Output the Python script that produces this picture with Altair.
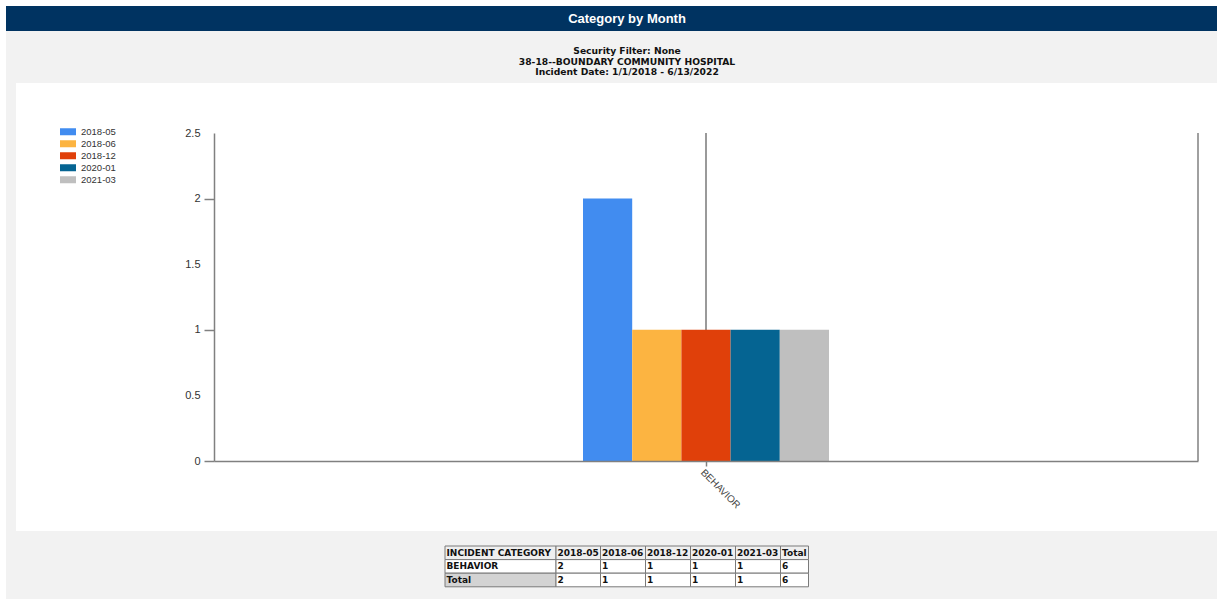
import altair as alt
import pandas as pd

# ---- data -------------------------------------------------------------
category = "BEHAVIOR"
months = ["2018-05", "2018-06", "2018-12", "2020-01", "2021-03"]
counts = [2, 1, 1, 1, 1]
colors = ["#418CF0", "#FCB441", "#E0400A", "#056492", "#BFBFBF"]
y_ticks = [0, 0.5, 1, 1.5, 2, 2.5]

report_title = "Category by Month"
subtitle_lines = [
    "Security Filter: None",
    "38-18--BOUNDARY COMMUNITY HOSPITAL",
    "Incident Date: 1/1/2018 - 6/13/2022",
]
table_corner = "INCIDENT CATEGORY"

# ---- layout -----------------------------------------------------------
W, H = 984, 328
PAD_L, PAD_T, PAD_R, PAD_B = 214, 133, 19, 138
AXIS_FONT = "Liberation Sans"
REPORT_FONT = "DejaVu Sans"
AXIS_GRAY = "#808080"

one = alt.Data(values=[{}])

bars_df = pd.DataFrame({"category": [category] * len(months), "month": months, "count": counts})

# frame: white page, gray report body, navy header, white chart panel
def box(x0, x1, y0, y1, fill):
    return alt.Chart(one).mark_rect(fill=fill).encode(
        x=alt.value(x0), x2=alt.value(x1), y=alt.value(y0), y2=alt.value(y1)
    )

gray_body = box(-208, W + PAD_R, -102, H + PAD_B, "#F2F2F2")
header_bar = box(-208, W + PAD_R, -127, -102, "#003361")
white_panel = box(-198, W + PAD_R, -50, 398, "#FFFFFF")

header_text = alt.Chart(one).mark_text(
    text=report_title, font=AXIS_FONT, fontSize=13, fontWeight="bold",
    color="#FFFFFF", align="center", baseline="middle",
).encode(x=alt.value(413), y=alt.value(-114))

sub_df = pd.DataFrame({"line": subtitle_lines, "i": range(len(subtitle_lines))})
sub_text = alt.Chart(sub_df).transform_calculate(
    py="-82 + 10.5 * datum.i"
).mark_text(
    font=REPORT_FONT, fontSize=9.2, fontWeight="bold", color="#111111",
    align="center", baseline="middle",
).encode(x=alt.value(413), y=alt.Y("py:Q", scale=None), text="line:N")

# ---- chart ------------------------------------------------------------
x_scale = alt.Scale(domain=[category], paddingInner=1 / 3, paddingOuter=1)
y_scale = alt.Scale(domain=[0, 2.5], nice=False, zero=True)

x_axis = alt.Axis(
    labelAngle=45, labelAlign="left", labelBaseline="top",
    labelFont=AXIS_FONT, labelFontSize=10, labelColor="#444444",
    labelPadding=1, tickSize=5, tickColor=AXIS_GRAY, tickWidth=1.5,
    domainColor=AXIS_GRAY, domainWidth=1.5, grid=False, zindex=1,
)

grid_line = alt.Chart(pd.DataFrame({"category": [category]})).mark_rule(
    color="#9A9A9A", strokeWidth=2
).encode(
    x=alt.X("category:N", scale=x_scale, axis=x_axis, title=None),
    y=alt.value(0), y2=alt.value(H),
)

right_edge = alt.Chart(one).mark_rule(color=AXIS_GRAY, strokeWidth=1.5).encode(
    x=alt.value(W), y=alt.value(0), y2=alt.value(H)
)

bars = alt.Chart(bars_df).mark_bar().encode(
    x=alt.X("category:N", scale=x_scale, title=None, axis=x_axis),
    xOffset=alt.XOffset("month:N", scale=alt.Scale(domain=months, paddingInner=0, paddingOuter=0)),
    y=alt.Y(
        "count:Q", scale=y_scale, title=None,
        axis=alt.Axis(
            values=y_ticks, format="~g", grid=False,
            labelFont=AXIS_FONT, labelFontSize=11, labelColor="#333333",
            labelPadding=4, tickSize=10, tickColor=AXIS_GRAY, tickWidth=1.5,
            tickOpacity={"condition": {"test": "datum.value % 1 === 0", "value": 1}, "value": 0},
            domainColor=AXIS_GRAY, domainWidth=1.5, zindex=1,
        ),
    ),
    color=alt.Color(
        "month:N", scale=alt.Scale(domain=months, range=colors),
        legend=alt.Legend(
            title=None, orient="none", legendX=-154, legendY=-7,
            symbolType="M-1,-0.45H1V0.45H-1Z", symbolSize=256, symbolStrokeWidth=0,
            clipHeight=11.5, rowPadding=0, labelOffset=5,
            labelFont=AXIS_FONT, labelFontSize=9.5, labelColor="#333333",
        ),
    ),
)

# ---- summary table ----------------------------------------------------
col_widths = [111, 44.5, 45, 45, 45, 45, 28]
row_h = 13.6
tx0, ty0 = 231, 413

header_row = [table_corner] + months + ["Total"]
body_row = [category] + [str(c) for c in counts] + [str(sum(counts))]
total_row = ["Total"] + [str(c) for c in counts] + [str(sum(counts))]

cells = []
for r, row in enumerate([header_row, body_row, total_row]):
    x = tx0
    for c, txt in enumerate(row):
        if r == 0:
            fill = "#EFEFEF"
        elif r == 2 and c == 0:
            fill = "#D3D3D3"
        else:
            fill = "#FFFFFF"
        cells.append({
            "x0": x, "x1": x + col_widths[c],
            "y0": ty0 + r * row_h, "y1": ty0 + (r + 1) * row_h,
            "tx": x + 1.5, "ty": ty0 + (r + 0.5) * row_h,
            "text": txt, "fill": fill,
        })
        x += col_widths[c]
cells_df = pd.DataFrame(cells)

table_cells = alt.Chart(cells_df).mark_rect(stroke="#7A7A7A", strokeWidth=1).encode(
    x=alt.X("x0:Q", scale=None), x2="x1:Q",
    y=alt.Y("y0:Q", scale=None), y2="y1:Q",
    fill=alt.Fill("fill:N", scale=None),
)
table_text = alt.Chart(cells_df).mark_text(
    font=REPORT_FONT, fontSize=9.0, fontWeight="bold", color="#111111",
    align="left", baseline="middle",
).encode(
    x=alt.X("tx:Q", scale=None), y=alt.Y("ty:Q", scale=None), text="text:N"
)

chart = alt.layer(
    gray_body, header_bar, white_panel, header_text, sub_text,
    grid_line, right_edge, bars, table_cells, table_text,
).properties(
    width=W, height=H,
    padding={"left": PAD_L, "top": PAD_T, "right": PAD_R, "bottom": PAD_B},
    autosize=alt.AutoSizeParams(type="none"),
    background="#FFFFFF",
).configure_view(stroke=None)

chart.save("out.html", embed_options={"renderer": "svg", "actions": False})
